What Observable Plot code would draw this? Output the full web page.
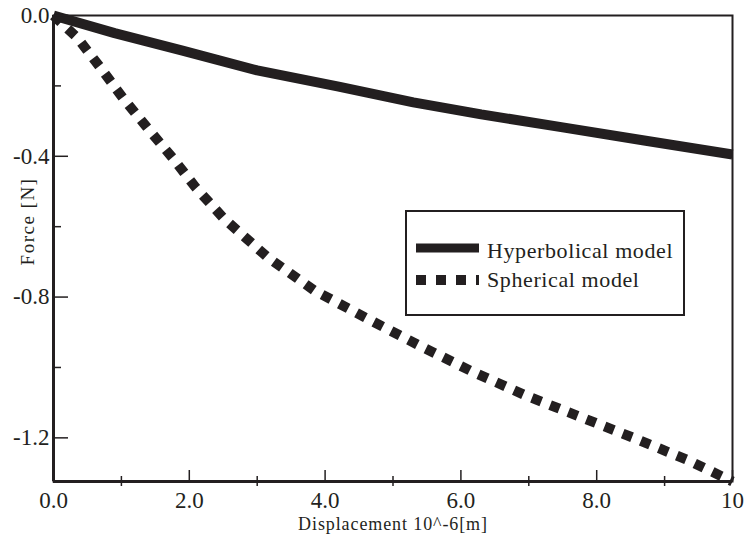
<!DOCTYPE html>
<html>
<head>
<meta charset="utf-8">
<script src="https://cdn.jsdelivr.net/npm/d3@7"></script>
<script src="https://cdn.jsdelivr.net/npm/@observablehq/plot@0.6"></script>
<style>
  html, body { margin: 0; padding: 0; background: #fff; }
  #wrap { position: relative; width: 745px; height: 535px; }
  #legend { position: absolute; left: 0; top: 0; pointer-events: none; }
</style>
</head>
<body>
<div id="wrap"></div>
<script>
// ---- data ----
const xTicks = [0, 2, 4, 6, 8, 10];
const xTickLabels = ["0.0", "2.0", "4.0", "6.0", "8.0", "10"];
const xMinorTicks = [1, 3, 5, 7, 9];
const yTicks = [0, -0.4, -0.8, -1.2];
const yTickLabels = ["0.0", "-0.4", "-0.8", "-1.2"];
const yMinorTicks = [-0.2, -0.6, -1.0];

const hypX = [0, 0.9, 1.9, 3.0, 4.2, 5.3, 6.3, 7.5, 8.7, 10];
const hypY = [0, -0.05, -0.1, -0.156, -0.202, -0.247, -0.281, -0.318, -0.355, -0.395];

const sphX = [0, 0.35, 0.69, 1.03, 1.39, 1.76, 2.1, 2.51, 3.16, 3.84, 4.62, 5.39, 6.16, 6.96, 7.78, 8.57, 9.35, 10];
const sphY = [0, -0.063, -0.148, -0.236, -0.321, -0.406, -0.49, -0.577, -0.688, -0.781, -0.861, -0.938, -1.011, -1.080, -1.142, -1.202, -1.264, -1.324];

const seriesNames = ["Hyperbolical model", "Spherical model"];
const xLabel = "Displacement 10^-6[m]";
const yLabel = "Force [N]";

// ---- build ----
const ink = "#231f20";
const serif = "'Liberation Serif', 'Times New Roman', serif";
const hyp = hypX.map((x, i) => ({x, y: hypY[i]}));
const sph = sphX.map((x, i) => ({x, y: sphY[i]}));

const W = 745, H = 535;
const mL = 53, mR = 13, mT = 15, mB = 54;
const fw = W - mL - mR, fh = H - mT - mB;

const chart = Plot.plot({
  width: W, height: H,
  marginLeft: mL, marginRight: mR, marginTop: mT, marginBottom: mB,
  style: {fontFamily: serif, background: "#fff", color: ink, overflow: "visible"},
  x: {domain: [0, 10], axis: null},
  y: {domain: [-1.324, 0], axis: null},
  marks: [
    Plot.line(hyp, {x: "x", y: "y", stroke: ink, strokeWidth: 10, strokeLinecap: "butt", strokeLinejoin: "miter"}),
    Plot.line(sph, {x: "x", y: "y", stroke: ink, strokeWidth: 10, strokeDasharray: "10,9.5", strokeLinecap: "butt", strokeLinejoin: "miter"}),
    Plot.frame({stroke: ink, strokeWidth: 2}),
    Plot.ruleX([0], {stroke: ink, strokeWidth: 3}),
    Plot.ruleY([-1.324], {stroke: ink, strokeWidth: 3}),
    Plot.tickX(xTicks, {x: d => d, stroke: ink, strokeWidth: 1.5, insetTop: fh - 11}),
    Plot.tickX(xMinorTicks, {x: d => d, stroke: ink, strokeWidth: 1.5, insetTop: fh - 5, insetBottom: -5}),
    Plot.tickY(yTicks, {y: d => d, stroke: ink, strokeWidth: 1.5, insetRight: fw - 15}),
    Plot.tickY(yMinorTicks, {y: d => d, stroke: ink, strokeWidth: 1.5, insetRight: fw - 8}),
    Plot.text(xTicks, {x: d => d, frameAnchor: "bottom", lineAnchor: "top", dy: 10,
      text: d => xTickLabels[xTicks.indexOf(d)], fontSize: 23, fontFamily: serif, fill: ink, textAnchor: "middle"}),
    Plot.text(yTicks, {y: d => d, frameAnchor: "left", lineAnchor: "middle", dx: -4,
      text: d => yTickLabels[yTicks.indexOf(d)], fontSize: 23, fontFamily: serif, fill: ink, textAnchor: "end"}),
    Plot.text([xLabel], {frameAnchor: "bottom", lineAnchor: "bottom", text: d => d, dy: 48, fontSize: 18, fontFamily: serif,
      fill: ink, textAnchor: "middle"}),
    Plot.text([yLabel], {frameAnchor: "left", text: d => d, dx: -26, dy: -27, rotate: -90, fontSize: 19,
      fontFamily: serif, fill: ink, textAnchor: "middle"})
  ]
});
document.getElementById("wrap").appendChild(chart);

// letter spacing to match the reference's loose typesetting
d3.select(chart).selectAll("text")
  .filter(function() { return this.textContent === xLabel; })
  .style("letter-spacing", "0.9px");
d3.select(chart).selectAll("text")
  .filter(function() { return this.textContent === yLabel; })
  .style("letter-spacing", "1.5px");

// ---- legend (overlay) ----
const lg = d3.select("#wrap").append("svg")
  .attr("id", "legend").attr("width", W).attr("height", H);
lg.append("rect").attr("x", 406).attr("y", 211).attr("width", 278).attr("height", 104)
  .attr("fill", "#fff").attr("stroke", ink).attr("stroke-width", 2);
const items = [
  {name: seriesNames[0], dash: null, w: 9, ly: 248, ty: 258},
  {name: seriesNames[1], dash: "10,10", w: 10, ly: 280, ty: 287}
];
items.forEach(it => {
  const l = lg.append("line").attr("x1", 416).attr("x2", 479).attr("y1", it.ly).attr("y2", it.ly)
    .attr("stroke", ink).attr("stroke-width", it.w);
  if (it.dash) l.attr("stroke-dasharray", it.dash);
  lg.append("text").attr("x", 487).attr("y", it.ty).text(it.name)
    .attr("font-family", serif).attr("font-size", 22).attr("fill", ink)
    .style("letter-spacing", "0.6px");
});
</script>
</body>
</html>
